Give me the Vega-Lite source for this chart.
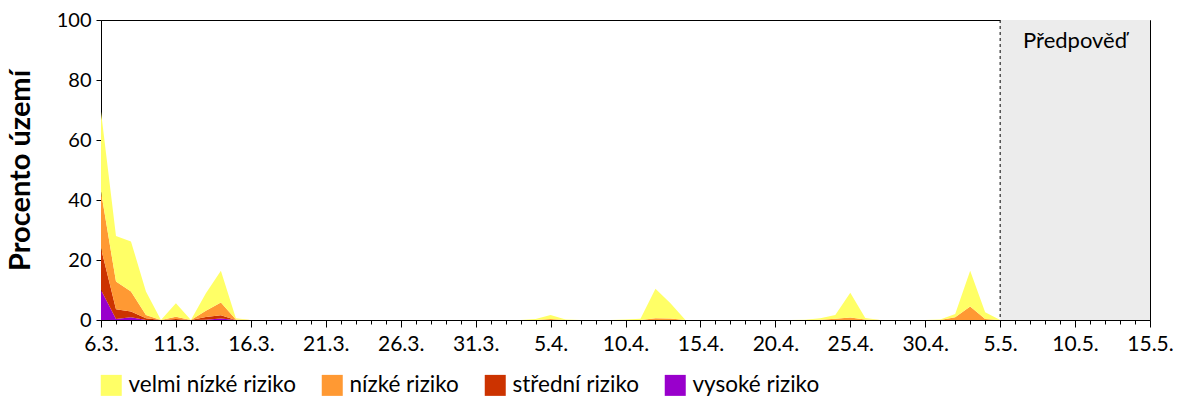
{
  "$schema": "https://vega.github.io/schema/vega-lite/v6.json",
  "width": 1049,
  "height": 300,
  "autosize": "none",
  "padding": {"left": 101, "top": 20, "right": 50, "bottom": 80},
  "config": {
    "font": "Lato",
    "view": {"stroke": "black", "strokeWidth": 1},
    "axis": {"grid": false, "labelColor": "black", "domainColor": "black", "tickColor": "black", "labelFont": "Lato", "labelFontSize": 20}
  },
  "datasets": {
    "predpoved": [{"od": "2020-05-05", "do": "2020-05-15"}],
    "riziko": [
      {"d": "2020-03-06", "r": "vysoké riziko", "p": 10, "o": 1}, {"d": "2020-03-06", "r": "střední riziko", "p": 13.9, "o": 2}, {"d": "2020-03-06", "r": "nízké riziko", "p": 18.9, "o": 3}, {"d": "2020-03-06", "r": "velmi nízké riziko", "p": 26.6, "o": 4},
      {"d": "2020-03-07", "r": "vysoké riziko", "p": 0.3, "o": 1}, {"d": "2020-03-07", "r": "střední riziko", "p": 3.3, "o": 2}, {"d": "2020-03-07", "r": "nízké riziko", "p": 9.2, "o": 3}, {"d": "2020-03-07", "r": "velmi nízké riziko", "p": 15.2, "o": 4},
      {"d": "2020-03-08", "r": "vysoké riziko", "p": 0.9, "o": 1}, {"d": "2020-03-08", "r": "střední riziko", "p": 1.9, "o": 2}, {"d": "2020-03-08", "r": "nízké riziko", "p": 6.7, "o": 3}, {"d": "2020-03-08", "r": "velmi nízké riziko", "p": 16.7, "o": 4},
      {"d": "2020-03-09", "r": "vysoké riziko", "p": 0, "o": 1}, {"d": "2020-03-09", "r": "střední riziko", "p": 0.6, "o": 2}, {"d": "2020-03-09", "r": "nízké riziko", "p": 1.1, "o": 3}, {"d": "2020-03-09", "r": "velmi nízké riziko", "p": 7.8, "o": 4},
      {"d": "2020-03-10", "r": "vysoké riziko", "p": 0, "o": 1}, {"d": "2020-03-10", "r": "střední riziko", "p": 0, "o": 2}, {"d": "2020-03-10", "r": "nízké riziko", "p": 0, "o": 3}, {"d": "2020-03-10", "r": "velmi nízké riziko", "p": 0, "o": 4},
      {"d": "2020-03-11", "r": "vysoké riziko", "p": 0, "o": 1}, {"d": "2020-03-11", "r": "střední riziko", "p": 0.3, "o": 2}, {"d": "2020-03-11", "r": "nízké riziko", "p": 0.8, "o": 3}, {"d": "2020-03-11", "r": "velmi nízké riziko", "p": 4.5, "o": 4},
      {"d": "2020-03-12", "r": "vysoké riziko", "p": 0, "o": 1}, {"d": "2020-03-12", "r": "střední riziko", "p": 0, "o": 2}, {"d": "2020-03-12", "r": "nízké riziko", "p": 0, "o": 3}, {"d": "2020-03-12", "r": "velmi nízké riziko", "p": 0, "o": 4},
      {"d": "2020-03-13", "r": "vysoké riziko", "p": 0.1, "o": 1}, {"d": "2020-03-13", "r": "střední riziko", "p": 0.9, "o": 2}, {"d": "2020-03-13", "r": "nízké riziko", "p": 2.1, "o": 3}, {"d": "2020-03-13", "r": "velmi nízké riziko", "p": 5.8, "o": 4},
      {"d": "2020-03-14", "r": "vysoké riziko", "p": 0.5, "o": 1}, {"d": "2020-03-14", "r": "střední riziko", "p": 1.1, "o": 2}, {"d": "2020-03-14", "r": "nízké riziko", "p": 4.2, "o": 3}, {"d": "2020-03-14", "r": "velmi nízké riziko", "p": 10.6, "o": 4},
      {"d": "2020-03-15", "r": "vysoké riziko", "p": 0, "o": 1}, {"d": "2020-03-15", "r": "střední riziko", "p": 0, "o": 2}, {"d": "2020-03-15", "r": "nízké riziko", "p": 0.2, "o": 3}, {"d": "2020-03-15", "r": "velmi nízké riziko", "p": 0.4, "o": 4},
      {"d": "2020-03-16", "r": "vysoké riziko", "p": 0, "o": 1}, {"d": "2020-03-16", "r": "střední riziko", "p": 0, "o": 2}, {"d": "2020-03-16", "r": "nízké riziko", "p": 0, "o": 3}, {"d": "2020-03-16", "r": "velmi nízké riziko", "p": 0, "o": 4},
      {"d": "2020-03-17", "r": "vysoké riziko", "p": 0, "o": 1}, {"d": "2020-03-17", "r": "střední riziko", "p": 0, "o": 2}, {"d": "2020-03-17", "r": "nízké riziko", "p": 0, "o": 3}, {"d": "2020-03-17", "r": "velmi nízké riziko", "p": 0, "o": 4},
      {"d": "2020-03-18", "r": "vysoké riziko", "p": 0, "o": 1}, {"d": "2020-03-18", "r": "střední riziko", "p": 0, "o": 2}, {"d": "2020-03-18", "r": "nízké riziko", "p": 0, "o": 3}, {"d": "2020-03-18", "r": "velmi nízké riziko", "p": 0, "o": 4},
      {"d": "2020-03-19", "r": "vysoké riziko", "p": 0, "o": 1}, {"d": "2020-03-19", "r": "střední riziko", "p": 0, "o": 2}, {"d": "2020-03-19", "r": "nízké riziko", "p": 0, "o": 3}, {"d": "2020-03-19", "r": "velmi nízké riziko", "p": 0, "o": 4},
      {"d": "2020-03-20", "r": "vysoké riziko", "p": 0, "o": 1}, {"d": "2020-03-20", "r": "střední riziko", "p": 0, "o": 2}, {"d": "2020-03-20", "r": "nízké riziko", "p": 0, "o": 3}, {"d": "2020-03-20", "r": "velmi nízké riziko", "p": 0, "o": 4},
      {"d": "2020-03-21", "r": "vysoké riziko", "p": 0, "o": 1}, {"d": "2020-03-21", "r": "střední riziko", "p": 0, "o": 2}, {"d": "2020-03-21", "r": "nízké riziko", "p": 0, "o": 3}, {"d": "2020-03-21", "r": "velmi nízké riziko", "p": 0, "o": 4},
      {"d": "2020-03-22", "r": "vysoké riziko", "p": 0, "o": 1}, {"d": "2020-03-22", "r": "střední riziko", "p": 0, "o": 2}, {"d": "2020-03-22", "r": "nízké riziko", "p": 0, "o": 3}, {"d": "2020-03-22", "r": "velmi nízké riziko", "p": 0, "o": 4},
      {"d": "2020-03-23", "r": "vysoké riziko", "p": 0, "o": 1}, {"d": "2020-03-23", "r": "střední riziko", "p": 0, "o": 2}, {"d": "2020-03-23", "r": "nízké riziko", "p": 0, "o": 3}, {"d": "2020-03-23", "r": "velmi nízké riziko", "p": 0, "o": 4},
      {"d": "2020-03-24", "r": "vysoké riziko", "p": 0, "o": 1}, {"d": "2020-03-24", "r": "střední riziko", "p": 0, "o": 2}, {"d": "2020-03-24", "r": "nízké riziko", "p": 0, "o": 3}, {"d": "2020-03-24", "r": "velmi nízké riziko", "p": 0, "o": 4},
      {"d": "2020-03-25", "r": "vysoké riziko", "p": 0, "o": 1}, {"d": "2020-03-25", "r": "střední riziko", "p": 0, "o": 2}, {"d": "2020-03-25", "r": "nízké riziko", "p": 0, "o": 3}, {"d": "2020-03-25", "r": "velmi nízké riziko", "p": 0, "o": 4},
      {"d": "2020-03-26", "r": "vysoké riziko", "p": 0, "o": 1}, {"d": "2020-03-26", "r": "střední riziko", "p": 0, "o": 2}, {"d": "2020-03-26", "r": "nízké riziko", "p": 0, "o": 3}, {"d": "2020-03-26", "r": "velmi nízké riziko", "p": 0, "o": 4},
      {"d": "2020-03-27", "r": "vysoké riziko", "p": 0, "o": 1}, {"d": "2020-03-27", "r": "střední riziko", "p": 0, "o": 2}, {"d": "2020-03-27", "r": "nízké riziko", "p": 0, "o": 3}, {"d": "2020-03-27", "r": "velmi nízké riziko", "p": 0, "o": 4},
      {"d": "2020-03-28", "r": "vysoké riziko", "p": 0, "o": 1}, {"d": "2020-03-28", "r": "střední riziko", "p": 0, "o": 2}, {"d": "2020-03-28", "r": "nízké riziko", "p": 0, "o": 3}, {"d": "2020-03-28", "r": "velmi nízké riziko", "p": 0, "o": 4},
      {"d": "2020-03-29", "r": "vysoké riziko", "p": 0, "o": 1}, {"d": "2020-03-29", "r": "střední riziko", "p": 0, "o": 2}, {"d": "2020-03-29", "r": "nízké riziko", "p": 0, "o": 3}, {"d": "2020-03-29", "r": "velmi nízké riziko", "p": 0, "o": 4},
      {"d": "2020-03-30", "r": "vysoké riziko", "p": 0, "o": 1}, {"d": "2020-03-30", "r": "střední riziko", "p": 0, "o": 2}, {"d": "2020-03-30", "r": "nízké riziko", "p": 0, "o": 3}, {"d": "2020-03-30", "r": "velmi nízké riziko", "p": 0, "o": 4},
      {"d": "2020-03-31", "r": "vysoké riziko", "p": 0, "o": 1}, {"d": "2020-03-31", "r": "střední riziko", "p": 0, "o": 2}, {"d": "2020-03-31", "r": "nízké riziko", "p": 0, "o": 3}, {"d": "2020-03-31", "r": "velmi nízké riziko", "p": 0, "o": 4},
      {"d": "2020-04-01", "r": "vysoké riziko", "p": 0, "o": 1}, {"d": "2020-04-01", "r": "střední riziko", "p": 0, "o": 2}, {"d": "2020-04-01", "r": "nízké riziko", "p": 0, "o": 3}, {"d": "2020-04-01", "r": "velmi nízké riziko", "p": 0, "o": 4},
      {"d": "2020-04-02", "r": "vysoké riziko", "p": 0, "o": 1}, {"d": "2020-04-02", "r": "střední riziko", "p": 0, "o": 2}, {"d": "2020-04-02", "r": "nízké riziko", "p": 0, "o": 3}, {"d": "2020-04-02", "r": "velmi nízké riziko", "p": 0, "o": 4},
      {"d": "2020-04-03", "r": "vysoké riziko", "p": 0, "o": 1}, {"d": "2020-04-03", "r": "střední riziko", "p": 0, "o": 2}, {"d": "2020-04-03", "r": "nízké riziko", "p": 0, "o": 3}, {"d": "2020-04-03", "r": "velmi nízké riziko", "p": 0, "o": 4},
      {"d": "2020-04-04", "r": "vysoké riziko", "p": 0, "o": 1}, {"d": "2020-04-04", "r": "střední riziko", "p": 0, "o": 2}, {"d": "2020-04-04", "r": "nízké riziko", "p": 0, "o": 3}, {"d": "2020-04-04", "r": "velmi nízké riziko", "p": 0.3, "o": 4},
      {"d": "2020-04-05", "r": "vysoké riziko", "p": 0, "o": 1}, {"d": "2020-04-05", "r": "střední riziko", "p": 0, "o": 2}, {"d": "2020-04-05", "r": "nízké riziko", "p": 0.3, "o": 3}, {"d": "2020-04-05", "r": "velmi nízké riziko", "p": 1.4, "o": 4},
      {"d": "2020-04-06", "r": "vysoké riziko", "p": 0, "o": 1}, {"d": "2020-04-06", "r": "střední riziko", "p": 0, "o": 2}, {"d": "2020-04-06", "r": "nízké riziko", "p": 0, "o": 3}, {"d": "2020-04-06", "r": "velmi nízké riziko", "p": 0.2, "o": 4},
      {"d": "2020-04-07", "r": "vysoké riziko", "p": 0, "o": 1}, {"d": "2020-04-07", "r": "střední riziko", "p": 0, "o": 2}, {"d": "2020-04-07", "r": "nízké riziko", "p": 0, "o": 3}, {"d": "2020-04-07", "r": "velmi nízké riziko", "p": 0, "o": 4},
      {"d": "2020-04-08", "r": "vysoké riziko", "p": 0, "o": 1}, {"d": "2020-04-08", "r": "střední riziko", "p": 0, "o": 2}, {"d": "2020-04-08", "r": "nízké riziko", "p": 0, "o": 3}, {"d": "2020-04-08", "r": "velmi nízké riziko", "p": 0, "o": 4},
      {"d": "2020-04-09", "r": "vysoké riziko", "p": 0, "o": 1}, {"d": "2020-04-09", "r": "střední riziko", "p": 0, "o": 2}, {"d": "2020-04-09", "r": "nízké riziko", "p": 0, "o": 3}, {"d": "2020-04-09", "r": "velmi nízké riziko", "p": 0, "o": 4},
      {"d": "2020-04-10", "r": "vysoké riziko", "p": 0, "o": 1}, {"d": "2020-04-10", "r": "střední riziko", "p": 0, "o": 2}, {"d": "2020-04-10", "r": "nízké riziko", "p": 0, "o": 3}, {"d": "2020-04-10", "r": "velmi nízké riziko", "p": 0.2, "o": 4},
      {"d": "2020-04-11", "r": "vysoké riziko", "p": 0, "o": 1}, {"d": "2020-04-11", "r": "střední riziko", "p": 0, "o": 2}, {"d": "2020-04-11", "r": "nízké riziko", "p": 0, "o": 3}, {"d": "2020-04-11", "r": "velmi nízké riziko", "p": 0.4, "o": 4},
      {"d": "2020-04-12", "r": "vysoké riziko", "p": 0, "o": 1}, {"d": "2020-04-12", "r": "střední riziko", "p": 0, "o": 2}, {"d": "2020-04-12", "r": "nízké riziko", "p": 0.6, "o": 3}, {"d": "2020-04-12", "r": "velmi nízké riziko", "p": 9.8, "o": 4},
      {"d": "2020-04-13", "r": "vysoké riziko", "p": 0, "o": 1}, {"d": "2020-04-13", "r": "střední riziko", "p": 0, "o": 2}, {"d": "2020-04-13", "r": "nízké riziko", "p": 0.5, "o": 3}, {"d": "2020-04-13", "r": "velmi nízké riziko", "p": 5.1, "o": 4},
      {"d": "2020-04-14", "r": "vysoké riziko", "p": 0, "o": 1}, {"d": "2020-04-14", "r": "střední riziko", "p": 0, "o": 2}, {"d": "2020-04-14", "r": "nízké riziko", "p": 0, "o": 3}, {"d": "2020-04-14", "r": "velmi nízké riziko", "p": 0, "o": 4},
      {"d": "2020-04-15", "r": "vysoké riziko", "p": 0, "o": 1}, {"d": "2020-04-15", "r": "střední riziko", "p": 0, "o": 2}, {"d": "2020-04-15", "r": "nízké riziko", "p": 0, "o": 3}, {"d": "2020-04-15", "r": "velmi nízké riziko", "p": 0, "o": 4},
      {"d": "2020-04-16", "r": "vysoké riziko", "p": 0, "o": 1}, {"d": "2020-04-16", "r": "střední riziko", "p": 0, "o": 2}, {"d": "2020-04-16", "r": "nízké riziko", "p": 0, "o": 3}, {"d": "2020-04-16", "r": "velmi nízké riziko", "p": 0, "o": 4},
      {"d": "2020-04-17", "r": "vysoké riziko", "p": 0, "o": 1}, {"d": "2020-04-17", "r": "střední riziko", "p": 0, "o": 2}, {"d": "2020-04-17", "r": "nízké riziko", "p": 0, "o": 3}, {"d": "2020-04-17", "r": "velmi nízké riziko", "p": 0, "o": 4},
      {"d": "2020-04-18", "r": "vysoké riziko", "p": 0, "o": 1}, {"d": "2020-04-18", "r": "střední riziko", "p": 0, "o": 2}, {"d": "2020-04-18", "r": "nízké riziko", "p": 0, "o": 3}, {"d": "2020-04-18", "r": "velmi nízké riziko", "p": 0, "o": 4},
      {"d": "2020-04-19", "r": "vysoké riziko", "p": 0, "o": 1}, {"d": "2020-04-19", "r": "střední riziko", "p": 0, "o": 2}, {"d": "2020-04-19", "r": "nízké riziko", "p": 0, "o": 3}, {"d": "2020-04-19", "r": "velmi nízké riziko", "p": 0, "o": 4},
      {"d": "2020-04-20", "r": "vysoké riziko", "p": 0, "o": 1}, {"d": "2020-04-20", "r": "střední riziko", "p": 0, "o": 2}, {"d": "2020-04-20", "r": "nízké riziko", "p": 0, "o": 3}, {"d": "2020-04-20", "r": "velmi nízké riziko", "p": 0, "o": 4},
      {"d": "2020-04-21", "r": "vysoké riziko", "p": 0, "o": 1}, {"d": "2020-04-21", "r": "střední riziko", "p": 0, "o": 2}, {"d": "2020-04-21", "r": "nízké riziko", "p": 0, "o": 3}, {"d": "2020-04-21", "r": "velmi nízké riziko", "p": 0, "o": 4},
      {"d": "2020-04-22", "r": "vysoké riziko", "p": 0, "o": 1}, {"d": "2020-04-22", "r": "střední riziko", "p": 0, "o": 2}, {"d": "2020-04-22", "r": "nízké riziko", "p": 0, "o": 3}, {"d": "2020-04-22", "r": "velmi nízké riziko", "p": 0.1, "o": 4},
      {"d": "2020-04-23", "r": "vysoké riziko", "p": 0, "o": 1}, {"d": "2020-04-23", "r": "střední riziko", "p": 0, "o": 2}, {"d": "2020-04-23", "r": "nízké riziko", "p": 0.1, "o": 3}, {"d": "2020-04-23", "r": "velmi nízké riziko", "p": 0.5, "o": 4},
      {"d": "2020-04-24", "r": "vysoké riziko", "p": 0, "o": 1}, {"d": "2020-04-24", "r": "střední riziko", "p": 0, "o": 2}, {"d": "2020-04-24", "r": "nízké riziko", "p": 0.4, "o": 3}, {"d": "2020-04-24", "r": "velmi nízké riziko", "p": 1.3, "o": 4},
      {"d": "2020-04-25", "r": "vysoké riziko", "p": 0, "o": 1}, {"d": "2020-04-25", "r": "střední riziko", "p": 0, "o": 2}, {"d": "2020-04-25", "r": "nízké riziko", "p": 0.8, "o": 3}, {"d": "2020-04-25", "r": "velmi nízké riziko", "p": 8.3, "o": 4},
      {"d": "2020-04-26", "r": "vysoké riziko", "p": 0, "o": 1}, {"d": "2020-04-26", "r": "střední riziko", "p": 0, "o": 2}, {"d": "2020-04-26", "r": "nízké riziko", "p": 0.2, "o": 3}, {"d": "2020-04-26", "r": "velmi nízké riziko", "p": 0.5, "o": 4},
      {"d": "2020-04-27", "r": "vysoké riziko", "p": 0, "o": 1}, {"d": "2020-04-27", "r": "střední riziko", "p": 0, "o": 2}, {"d": "2020-04-27", "r": "nízké riziko", "p": 0, "o": 3}, {"d": "2020-04-27", "r": "velmi nízké riziko", "p": 0, "o": 4},
      {"d": "2020-04-28", "r": "vysoké riziko", "p": 0, "o": 1}, {"d": "2020-04-28", "r": "střední riziko", "p": 0, "o": 2}, {"d": "2020-04-28", "r": "nízké riziko", "p": 0, "o": 3}, {"d": "2020-04-28", "r": "velmi nízké riziko", "p": 0, "o": 4},
      {"d": "2020-04-29", "r": "vysoké riziko", "p": 0, "o": 1}, {"d": "2020-04-29", "r": "střední riziko", "p": 0, "o": 2}, {"d": "2020-04-29", "r": "nízké riziko", "p": 0, "o": 3}, {"d": "2020-04-29", "r": "velmi nízké riziko", "p": 0, "o": 4},
      {"d": "2020-04-30", "r": "vysoké riziko", "p": 0, "o": 1}, {"d": "2020-04-30", "r": "střední riziko", "p": 0, "o": 2}, {"d": "2020-04-30", "r": "nízké riziko", "p": 0, "o": 3}, {"d": "2020-04-30", "r": "velmi nízké riziko", "p": 0, "o": 4},
      {"d": "2020-05-01", "r": "vysoké riziko", "p": 0, "o": 1}, {"d": "2020-05-01", "r": "střední riziko", "p": 0, "o": 2}, {"d": "2020-05-01", "r": "nízké riziko", "p": 0, "o": 3}, {"d": "2020-05-01", "r": "velmi nízké riziko", "p": 0.2, "o": 4},
      {"d": "2020-05-02", "r": "vysoké riziko", "p": 0, "o": 1}, {"d": "2020-05-02", "r": "střední riziko", "p": 0, "o": 2}, {"d": "2020-05-02", "r": "nízké riziko", "p": 0.9, "o": 3}, {"d": "2020-05-02", "r": "velmi nízké riziko", "p": 1.1, "o": 4},
      {"d": "2020-05-03", "r": "vysoké riziko", "p": 0, "o": 1}, {"d": "2020-05-03", "r": "střední riziko", "p": 0, "o": 2}, {"d": "2020-05-03", "r": "nízké riziko", "p": 4.5, "o": 3}, {"d": "2020-05-03", "r": "velmi nízké riziko", "p": 11.9, "o": 4},
      {"d": "2020-05-04", "r": "vysoké riziko", "p": 0, "o": 1}, {"d": "2020-05-04", "r": "střední riziko", "p": 0, "o": 2}, {"d": "2020-05-04", "r": "nízké riziko", "p": 0.3, "o": 3}, {"d": "2020-05-04", "r": "velmi nízké riziko", "p": 2.3, "o": 4},
      {"d": "2020-05-05", "r": "vysoké riziko", "p": 0, "o": 1}, {"d": "2020-05-05", "r": "střední riziko", "p": 0, "o": 2}, {"d": "2020-05-05", "r": "nízké riziko", "p": 0, "o": 3}, {"d": "2020-05-05", "r": "velmi nízké riziko", "p": 0, "o": 4}
    ]
  },
  "layer": [
    {
      "data": {"name": "predpoved"},
      "mark": {"type": "rect", "fill": "#ececec"},
      "encoding": {
        "x": {"field": "od", "type": "temporal"},
        "x2": {"field": "do"}
      }
    },
    {
      "data": {"name": "riziko"},
      "mark": {"type": "area", "interpolate": "linear", "opacity": 1},
      "encoding": {
        "x": {
          "field": "d",
          "type": "temporal",
          "scale": {"type": "utc", "domain": ["2020-03-06", "2020-05-15"], "nice": false},
          "axis": {
            "title": null,
            "tickCount": {"interval": "day", "step": 1},
            "labelExpr": "round((datum.value - utc(2020, 2, 6)) / 86400000) % 5 == 0 ? utcdate(datum.value) + '.' + (utcmonth(datum.value) + 1) + '.' : ''",
            "tickSize": {"condition": {"test": "round((datum.value - utc(2020, 2, 6)) / 86400000) % 5 == 0", "value": 7}, "value": 4},
            "labelPadding": 6,
            "labelFontSize": 21,
            "labelOverlap": false,
            "labelFlush": false
          }
        },
        "y": {
          "field": "p",
          "type": "quantitative",
          "stack": "zero",
          "scale": {"domain": [0, 100], "nice": false},
          "axis": {
            "title": "Procento území",
            "titleFontSize": 29,
            "titleFontWeight": "bold",
            "titleColor": "black",
            "titleFont": "Lato",
            "titlePadding": 21,
            "values": [0, 20, 40, 60, 80, 100],
            "tickSize": 5,
            "labelPadding": 5
          }
        },
        "color": {
          "field": "r",
          "type": "nominal",
          "scale": {
            "domain": ["velmi nízké riziko", "nízké riziko", "střední riziko", "vysoké riziko"],
            "range": ["#ffff66", "#ff9933", "#cc3300", "#9900cc"]
          },
          "legend": {
            "title": null,
            "orient": "none",
            "legendX": -1,
            "legendY": 354,
            "direction": "horizontal",
            "symbolType": "square",
            "symbolSize": 441,
            "symbolStrokeWidth": 0,
            "symbolOpacity": 1,
            "labelFontSize": 22.5,
            "labelFont": "Lato",
            "labelColor": "black",
            "labelLimit": 400,
            "labelOffset": 6,
            "columnPadding": 25
          }
        },
        "order": {"field": "o", "type": "quantitative", "sort": "ascending"}
      }
    },
    {
      "data": {"name": "predpoved"},
      "mark": {"type": "rule", "color": "black", "strokeWidth": 1, "strokeDash": [3, 3]},
      "encoding": {
        "x": {"field": "od", "type": "temporal"}
      }
    },
    {
      "data": {"values": [{"t": "Předpověď"}]},
      "mark": {"type": "text", "fontSize": 22, "font": "Lato", "color": "black", "align": "center", "baseline": "middle"},
      "encoding": {
        "x": {"datum": {"year": 2020, "month": 5, "date": 10, "utc": true}, "type": "temporal"},
        "y": {"datum": 93, "type": "quantitative"},
        "text": {"field": "t"}
      }
    }
  ]
}
